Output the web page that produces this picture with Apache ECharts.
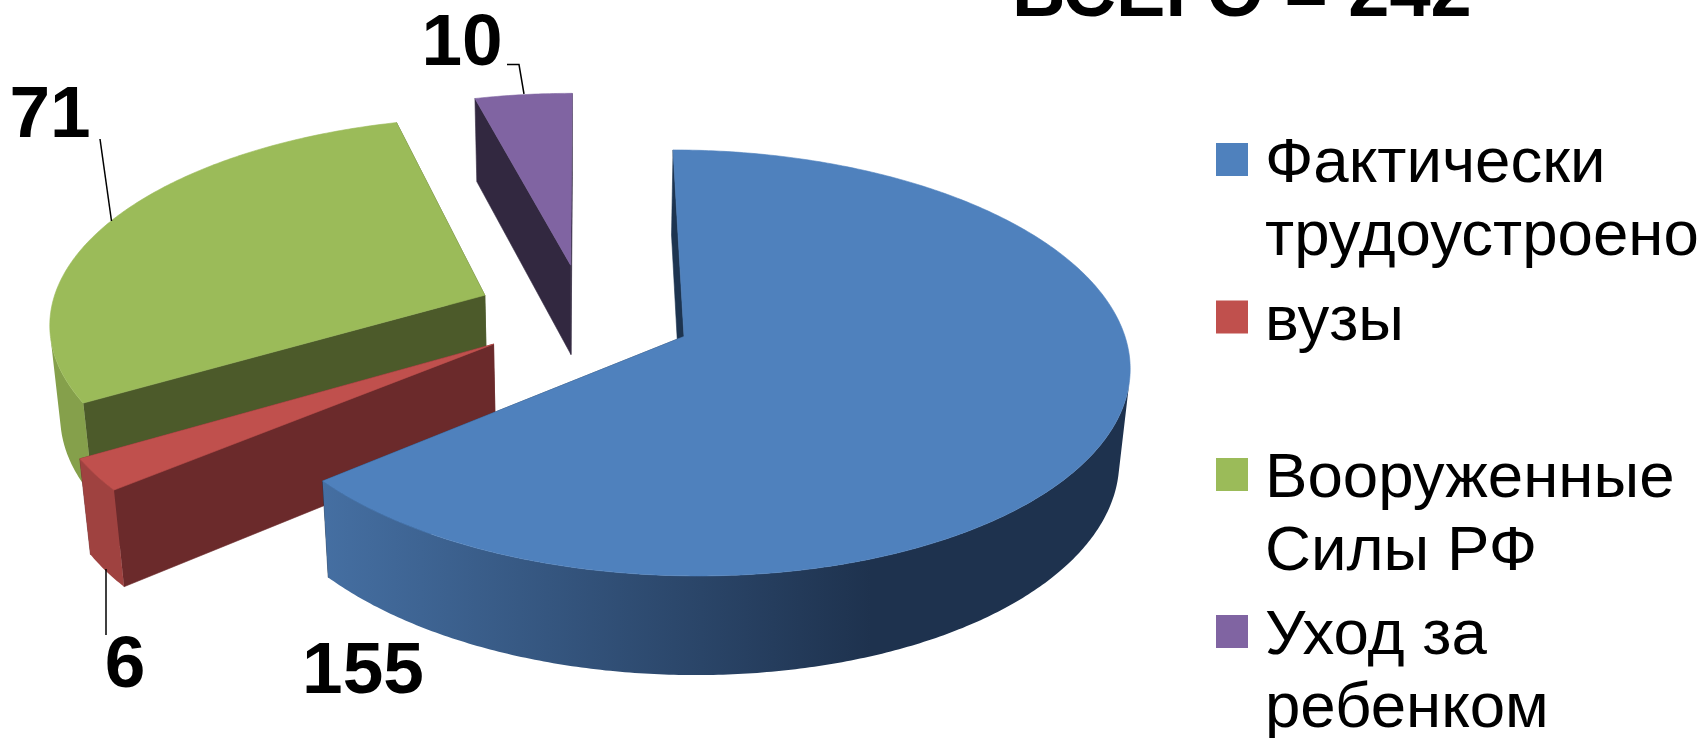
<!DOCTYPE html>
<html><head><meta charset="utf-8">
<style>html,body{margin:0;padding:0;background:#fff;overflow:hidden}#c{width:1706px;height:738px}</style>
<script src="https://cdn.jsdelivr.net/npm/echarts@6/dist/echarts.min.js"></script>
</head><body><div id="c"></div>
<script>
// ---- data ----
const categories = ['Фактически трудоустроено', 'вузы', 'Вооруженные Силы РФ', 'Уход за ребенком'];
const values = [155, 6, 71, 10];
const legendLines = ['Фактически\nтрудоустроено', 'вузы', 'Вооруженные\nСилы РФ', 'Уход за\nребенком'];
const titleText = 'ВСЕГО = 242';

// ---- styles ----
const topColors = ['#4F81BD', '#C0504D', '#9BBB59', '#8064A2'];
const faceColors = ['#1D3450', '#6B2A2B', '#4C5A2A', '#322840'];
const wallStops = [
  [[0, '#456FA2'], [0.68, '#1E324E'], [1, '#1E324E']],
  [[0, '#9F4240'], [1, '#9F4240']],
  [[0, '#85A04B'], [1, '#85A04B']],
  [[0, '#6C5589'], [1, '#6C5589']]
];
const drawOrder = [3, 2, 1, 0];              // back to front
const legendCentres = [159.5, 317, 474.5, 631.5];
const legendLineHeight = 73;
const legendTextDrop = 5;
const labelPos = [[363, 673], [125, 667], [50, 117], [462, 45]];
const leaders = [
  [],
  [[106, 635], [106, 569]],
  [[100, 139], [111.5, 221]],
  [[507, 64.5], [519, 64.5], [524, 94]]
];

// ---- projection of the 3-D pie ----
const view = {xc: 585, x0: 99, yc: 336.5, a: 441, b: 209.7, d: 93.6, p: 0.1244, q: 0.02,
              explode: 0.25, cu: -0.226, cv: -0.107};
function project(u, v, z) {
  const w = 1 - view.p * v + view.q * z;
  return [view.xc + (view.x0 + view.a * u) / w, view.yc + (view.b * v + view.d * z) / w];
}
const total = values.reduce((s, x) => s + x, 0);
function sliceAngles(i) {
  let before = 0;
  for (let k = 0; k < i; k++) before += values[k];
  return [before / total * 2 * Math.PI, (before + values[i]) / total * 2 * Math.PI];
}
function apexOf(i) {
  const [s, e] = sliceAngles(i), m = (s + e) / 2;
  return [view.cu + view.explode * Math.sin(m), view.cv - view.explode * Math.cos(m)];
}
function arcPts(i, z) {
  const [s, e] = sliceAngles(i), [au, av] = apexOf(i), out = [];
  const n = Math.max(8, Math.ceil((e - s) / 0.01));
  for (let k = 0; k <= n; k++) {
    const t = s + (e - s) * k / n;
    out.push(project(au + Math.sin(t), av - Math.cos(t), z));
  }
  return out;
}
// part of the rim whose outer wall faces the viewer
function visibleRange(top, bottom) {
  let first = -1, last = -1;
  for (let k = 0; k < top.length - 1; k++) {
    const tx = top[k + 1][0] - top[k][0], ty = top[k + 1][1] - top[k][1];
    const dx = bottom[k][0] - top[k][0], dy = bottom[k][1] - top[k][1];
    if (tx * dy - ty * dx < 0) { if (first < 0) first = k; last = k + 1; }
  }
  return [first, last];
}
function poly(points, fill, stroke, z2) {
  return {type: 'polygon', z2: z2, shape: {points: points},
    style: {fill: fill, stroke: stroke, lineWidth: 0.6}, silent: true};
}
function renderSlice(i) {
  return function () {
    const [au, av] = apexOf(i), top = arcPts(i, 0), bottom = arcPts(i, 1);
    const a0 = project(au, av, 0), a1 = project(au, av, 1);
    const last = top.length - 1, kids = [];
    kids.push(poly([a0, top[last], bottom[last], a1], faceColors[i], faceColors[i], 1));
    kids.push(poly([a0, top[0], bottom[0], a1], faceColors[i], faceColors[i], 2));
    const [vf, vl] = visibleRange(top, bottom);
    if (vf >= 0) {
      const grad = new echarts.graphic.LinearGradient(0, 0, 1, 0,
        wallStops[i].map(s => ({offset: s[0], color: s[1]})));
      kids.push({type: 'polygon', z2: 3,
        shape: {points: top.slice(vf, vl + 1).concat(bottom.slice(vf, vl + 1).reverse())},
        style: {fill: grad}, silent: true});
    }
    kids.push(poly([a0].concat(top), topColors[i], topColors[i], 4));
    if (leaders[i].length) {
      kids.push({type: 'polyline', z2: 5, shape: {points: leaders[i]},
        style: {fill: null, stroke: '#000', lineWidth: 1.5}, silent: true});
    }
    kids.push({type: 'text', z2: 6, x: labelPos[i][0], y: labelPos[i][1], silent: true,
      style: {text: String(values[i]), fill: '#000', align: 'center', verticalAlign: 'middle',
        font: 'bold 73px "Liberation Sans", Arial, sans-serif'}});
    return {type: 'group', children: kids};
  };
}
const series = drawOrder.map(i => ({
  type: 'custom', name: categories[i], coordinateSystem: 'none', silent: true,
  animation: false, z: 2 + drawOrder.indexOf(i),
  itemStyle: {color: topColors[i]},
  data: [[values[i]]], renderItem: renderSlice(i)
}));
const legends = categories.map((name, i) => {
  const multi = legendLines[i].indexOf('\n') >= 0;
  const lines = multi ? 3 : 1;   // a leading empty line keeps the square beside the first text line
  return {
    data: [name], left: 1216, top: legendCentres[i] + legendTextDrop - lines * legendLineHeight / 2,
    orient: 'vertical', padding: 0, selectedMode: false,
    // square in the upper part of the icon box, so the text centre sits a little below the square's
    icon: 'path://M0,0H32V33H0Z M0,43L0,43', itemWidth: 32, itemHeight: 33 + 2 * legendTextDrop,
    formatter: () => (multi ? '\n' : '') + legendLines[i],
    textStyle: {
      fontFamily: '"Liberation Sans", Arial, sans-serif', fontSize: 63.6, lineHeight: legendLineHeight,
      color: '#000', padding: [0, 0, 0, 12]
    }
  };
});
const chart = echarts.init(document.getElementById('c'), null, {width: 1706, height: 738, renderer: 'canvas'});
chart.setOption({
  backgroundColor: '#fff', animation: false,
  title: {text: titleText, left: 1012, top: -41, padding: 0, textStyle: {
    fontFamily: '"Liberation Sans", Arial, sans-serif', fontSize: 74, fontWeight: 'bold', color: '#000', lineHeight: 74}},
  legend: legends, series: series
});
</script></body></html>
